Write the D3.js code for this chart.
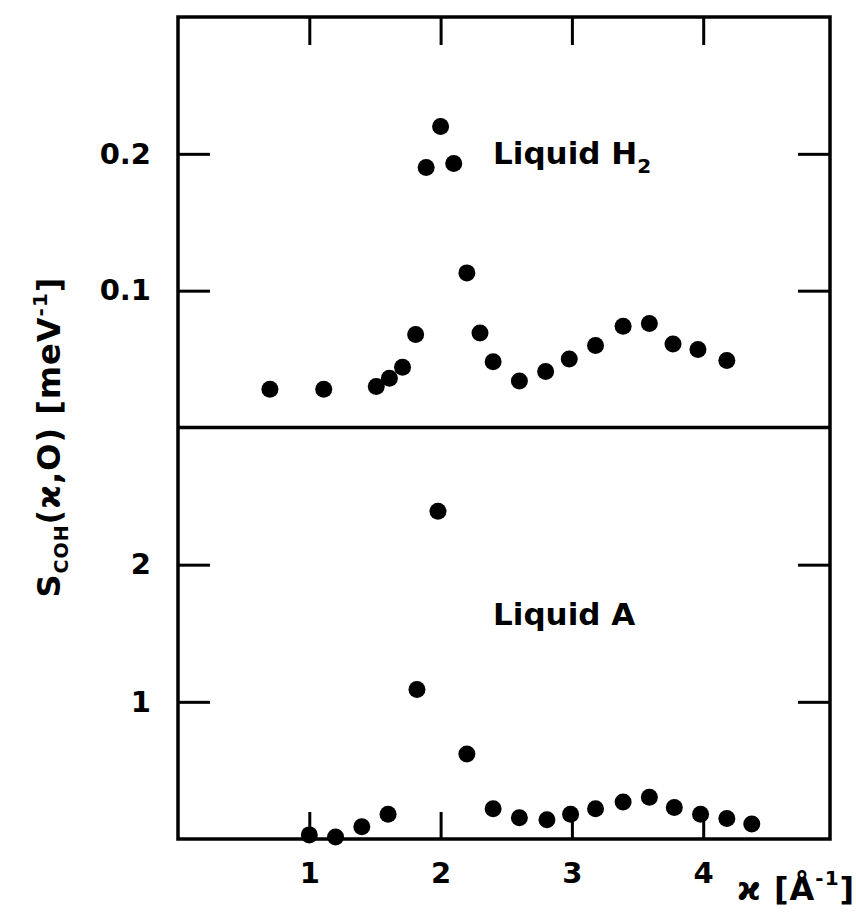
<!DOCTYPE html>
<html><head><meta charset="utf-8">
<script src="https://cdn.jsdelivr.net/npm/d3@7"></script>
<style>
body{margin:0;background:#fff}
text{font-family:"DejaVu Sans",sans-serif;font-weight:bold;fill:#000}
</style>
</head><body>
<svg id="c" width="856" height="912"></svg>
<script>
// ---- data ----
const h2X = [0.70,1.11,1.51,1.61,1.71,1.81,1.89,2.00,2.10,2.20,2.30,2.40,2.60,2.80,2.98,3.18,3.39,3.59,3.77,3.96,4.18];
const h2Y = [0.028,0.028,0.030,0.036,0.044,0.068,0.190,0.220,0.193,0.113,0.069,0.048,0.034,0.041,0.050,0.060,0.074,0.076,0.061,0.057,0.049];
const arX = [1.00,1.20,1.40,1.60,1.82,1.98,2.20,2.40,2.60,2.81,2.99,3.18,3.39,3.59,3.78,3.98,4.18,4.37];
const arY = [0.03,0.015,0.09,0.18,1.09,2.39,0.62,0.22,0.155,0.14,0.18,0.22,0.27,0.305,0.23,0.18,0.15,0.11];
const xTicks = [1,2,3,4];
const xTickLabels = ["1","2","3","4"];
const topTicks = [0.1,0.2];
const topTickLabels = ["0.1","0.2"];
const botTicks = [1,2];
const botTickLabels = ["1","2"];
const xDomain = [0,5];
const topDomain = [0,0.3];
const botDomain = [0,3];

// ---- layout ----
const L = 178, R = 830, T = 17, M = 427.5, B = 839;
const svg = d3.select("#c");
const x = d3.scaleLinear().domain(xDomain).range([L, 178 + 5*131.3]);
const yTop = d3.scaleLinear().domain(topDomain).range([M, T]);
const yBot = d3.scaleLinear().domain(botDomain).range([B, M]);

function clean(g){ g.select(".domain").remove(); g.selectAll("line").attr("stroke","#000").attr("stroke-width",3); }
function lab(g){ g.selectAll("text").attr("font-size",29).attr("font-family","DejaVu Sans").attr("font-weight","bold").attr("fill","#000"); }

// top panel: ticks at top edge (inward), left & right
svg.append("g").attr("transform",`translate(0,${T})`)
  .call(d3.axisTop(x).tickValues(xTicks).tickSizeInner(-28).tickSizeOuter(0).tickFormat(""))
  .call(clean);
svg.append("g").attr("transform",`translate(${L},0)`)
  .call(d3.axisLeft(yTop).tickValues(topTicks).tickSizeInner(-32).tickSizeOuter(0).tickPadding(27)
        .tickFormat((d,i)=>topTickLabels[i]))
  .call(clean).call(lab);
svg.append("g").attr("transform",`translate(${R},0)`)
  .call(d3.axisRight(yTop).tickValues(topTicks).tickSizeInner(-32).tickSizeOuter(0).tickFormat(""))
  .call(clean);

// bottom panel
svg.append("g").attr("transform",`translate(0,${B})`)
  .call(d3.axisBottom(x).tickValues(xTicks).tickSizeInner(-27).tickSizeOuter(0).tickPadding(23)
        .tickFormat((d,i)=>xTickLabels[i]))
  .call(clean).call(lab);
svg.append("g").attr("transform",`translate(${L},0)`)
  .call(d3.axisLeft(yBot).tickValues(botTicks).tickSizeInner(-32).tickSizeOuter(0).tickPadding(27)
        .tickFormat((d,i)=>botTickLabels[i]))
  .call(clean).call(lab);
svg.append("g").attr("transform",`translate(${R},0)`)
  .call(d3.axisRight(yBot).tickValues(botTicks).tickSizeInner(-32).tickSizeOuter(0).tickFormat(""))
  .call(clean);

// frame and divider
svg.append("rect").attr("x",L).attr("y",T).attr("width",R-L).attr("height",B-T)
  .attr("fill","none").attr("stroke","#000").attr("stroke-width",3.5);
svg.append("line").attr("x1",L).attr("x2",R).attr("y1",M).attr("y2",M)
  .attr("stroke","#000").attr("stroke-width",3.5);

// points
svg.append("g").selectAll("circle").data(h2X).join("circle")
  .attr("cx",(d)=>x(d)).attr("cy",(d,i)=>yTop(h2Y[i])).attr("r",8.5).attr("fill","#000");
svg.append("g").selectAll("circle").data(arX).join("circle")
  .attr("cx",(d)=>x(d)).attr("cy",(d,i)=>yBot(arY[i])).attr("r",8.5).attr("fill","#000");

// panel labels
const t1 = svg.append("text").attr("x",493).attr("y",164).attr("font-size",31);
t1.append("tspan").text("Liquid H");
t1.append("tspan").attr("font-size",20).attr("dy",9).text("2");
svg.append("text").attr("x",493).attr("y",625).attr("font-size",31).text("Liquid A");

// y-axis title
const yt = svg.append("text").attr("transform","translate(60,437) rotate(-90)")
  .attr("text-anchor","middle").attr("font-size",32).attr("letter-spacing",1);
yt.append("tspan").text("S");
yt.append("tspan").attr("font-size",19).attr("dy",8).text("COH");
yt.append("tspan").attr("dy",-8).text("(ϰ,O) [meV");
yt.append("tspan").attr("font-size",20).attr("dy",-13).text("-1");
yt.append("tspan").attr("dy",13).text("]");

// x-axis title
const xt = svg.append("text").attr("x",737).attr("y",900).attr("font-size",32).attr("letter-spacing",1);
xt.append("tspan").text("ϰ [Å");
xt.append("tspan").attr("font-size",20).attr("dy",-15).text("-1");
xt.append("tspan").attr("dy",15).text("]");
</script>
</body></html>
